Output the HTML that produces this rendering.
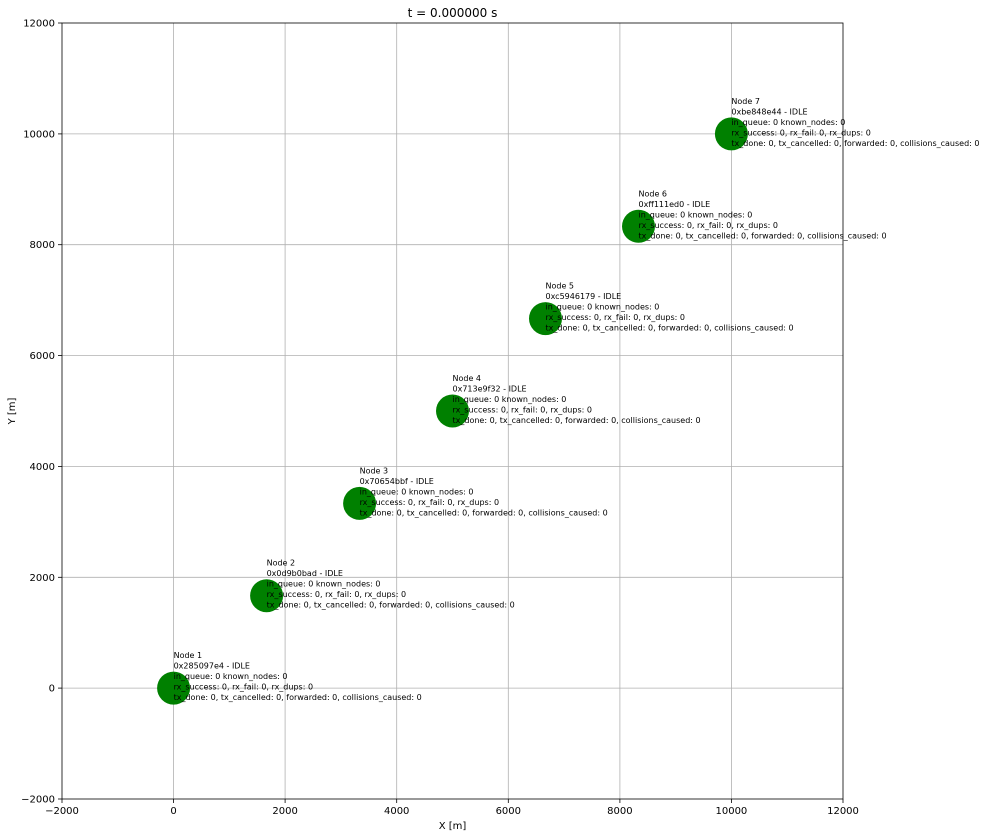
<!DOCTYPE html>
<html><head><meta charset="utf-8"><style>body{margin:0;background:#fff}svg{display:block}text{font-family:"DejaVu Sans","Liberation Sans",sans-serif}</style></head><body>
<svg width="986" height="837" viewBox="0 0 986 837" xmlns="http://www.w3.org/2000/svg">
<rect width="986" height="837" fill="#fff"/>
<g stroke="#b0b0b0" stroke-width="0.8">
<line x1="173.6" y1="23" x2="173.6" y2="799"/><line x1="285.1" y1="23" x2="285.1" y2="799"/><line x1="396.7" y1="23" x2="396.7" y2="799"/><line x1="508.3" y1="23" x2="508.3" y2="799"/><line x1="619.9" y1="23" x2="619.9" y2="799"/><line x1="731.4" y1="23" x2="731.4" y2="799"/>
<line x1="62" y1="688.1" x2="843" y2="688.1"/><line x1="62" y1="577.3" x2="843" y2="577.3"/><line x1="62" y1="466.4" x2="843" y2="466.4"/><line x1="62" y1="355.6" x2="843" y2="355.6"/><line x1="62" y1="244.7" x2="843" y2="244.7"/><line x1="62" y1="133.9" x2="843" y2="133.9"/>
</g>
<rect x="62" y="23" width="781" height="776" fill="none" stroke="#000" stroke-width="0.8"/>
<g stroke="#000" stroke-width="0.8">
<line x1="62" y1="799" x2="62" y2="803"/><line x1="173.6" y1="799" x2="173.6" y2="803"/><line x1="285.1" y1="799" x2="285.1" y2="803"/><line x1="396.7" y1="799" x2="396.7" y2="803"/><line x1="508.3" y1="799" x2="508.3" y2="803"/><line x1="619.9" y1="799" x2="619.9" y2="803"/><line x1="731.4" y1="799" x2="731.4" y2="803"/><line x1="843" y1="799" x2="843" y2="803"/>
<line x1="58" y1="23" x2="62" y2="23"/><line x1="58" y1="133.9" x2="62" y2="133.9"/><line x1="58" y1="244.7" x2="62" y2="244.7"/><line x1="58" y1="355.6" x2="62" y2="355.6"/><line x1="58" y1="466.4" x2="62" y2="466.4"/><line x1="58" y1="577.3" x2="62" y2="577.3"/><line x1="58" y1="688.1" x2="62" y2="688.1"/><line x1="58" y1="799" x2="62" y2="799"/>
</g>
<g font-size="10" text-anchor="middle" fill="#000">
<text x="62" y="814">−2000</text><text x="173.6" y="814">0</text><text x="285.1" y="814">2000</text><text x="396.7" y="814">4000</text><text x="508.3" y="814">6000</text><text x="619.9" y="814">8000</text><text x="731.4" y="814">10000</text><text x="843" y="814">12000</text>
</g>
<g font-size="10" text-anchor="end" fill="#000">
<text x="55" y="26.5">12000</text><text x="55" y="137.4">10000</text><text x="55" y="248.2">8000</text><text x="55" y="359.1">6000</text><text x="55" y="469.9">4000</text><text x="55" y="580.8">2000</text><text x="55" y="691.6">0</text><text x="55" y="802.5">−2000</text>
</g>
<text x="452.5" y="829" font-size="10" text-anchor="middle">X [m]</text>
<text transform="translate(15,411) rotate(-90)" font-size="10" text-anchor="middle">Y [m]</text>
<text x="452.5" y="17" font-size="12" text-anchor="middle">t = 0.000000 s</text>
<g fill="#008000">
<circle cx="173.6" cy="688.1" r="16.5"/><circle cx="266.6" cy="595.7" r="16.5"/><circle cx="359.6" cy="503.4" r="16.5"/><circle cx="452.5" cy="411" r="16.5"/><circle cx="545.5" cy="318.6" r="16.5"/><circle cx="638.5" cy="226.3" r="16.5"/><circle cx="731.4" cy="133.9" r="16.5"/>
</g>
<g font-size="8" fill="#000">
<text x="173.6" y="658.1">Node 1</text><text x="173.6" y="668.6">0x285097e4 - IDLE</text><text x="173.6" y="679.1">in_queue: 0 known_nodes: 0</text><text x="173.6" y="689.6">rx_success: 0, rx_fail: 0, rx_dups: 0</text><text x="173.6" y="700.1">tx_done: 0, tx_cancelled: 0, forwarded: 0, collisions_caused: 0</text>
<text x="266.6" y="565.7">Node 2</text><text x="266.6" y="576.2">0x0d9b0bad - IDLE</text><text x="266.6" y="586.7">in_queue: 0 known_nodes: 0</text><text x="266.6" y="597.2">rx_success: 0, rx_fail: 0, rx_dups: 0</text><text x="266.6" y="607.7">tx_done: 0, tx_cancelled: 0, forwarded: 0, collisions_caused: 0</text>
<text x="359.6" y="473.4">Node 3</text><text x="359.6" y="483.9">0x70654bbf - IDLE</text><text x="359.6" y="494.4">in_queue: 0 known_nodes: 0</text><text x="359.6" y="504.9">rx_success: 0, rx_fail: 0, rx_dups: 0</text><text x="359.6" y="515.4">tx_done: 0, tx_cancelled: 0, forwarded: 0, collisions_caused: 0</text>
<text x="452.5" y="381">Node 4</text><text x="452.5" y="391.5">0x713e9f32 - IDLE</text><text x="452.5" y="402">in_queue: 0 known_nodes: 0</text><text x="452.5" y="412.5">rx_success: 0, rx_fail: 0, rx_dups: 0</text><text x="452.5" y="423">tx_done: 0, tx_cancelled: 0, forwarded: 0, collisions_caused: 0</text>
<text x="545.5" y="288.6">Node 5</text><text x="545.5" y="299.1">0xc5946179 - IDLE</text><text x="545.5" y="309.6">in_queue: 0 known_nodes: 0</text><text x="545.5" y="320.1">rx_success: 0, rx_fail: 0, rx_dups: 0</text><text x="545.5" y="330.6">tx_done: 0, tx_cancelled: 0, forwarded: 0, collisions_caused: 0</text>
<text x="638.5" y="196.3">Node 6</text><text x="638.5" y="206.8">0xff111ed0 - IDLE</text><text x="638.5" y="217.3">in_queue: 0 known_nodes: 0</text><text x="638.5" y="227.8">rx_success: 0, rx_fail: 0, rx_dups: 0</text><text x="638.5" y="238.3">tx_done: 0, tx_cancelled: 0, forwarded: 0, collisions_caused: 0</text>
<text x="731.4" y="103.9">Node 7</text><text x="731.4" y="114.4">0xbe848e44 - IDLE</text><text x="731.4" y="124.9">in_queue: 0 known_nodes: 0</text><text x="731.4" y="135.4">rx_success: 0, rx_fail: 0, rx_dups: 0</text><text x="731.4" y="145.9">tx_done: 0, tx_cancelled: 0, forwarded: 0, collisions_caused: 0</text>
</g>
</svg>
</body></html>
